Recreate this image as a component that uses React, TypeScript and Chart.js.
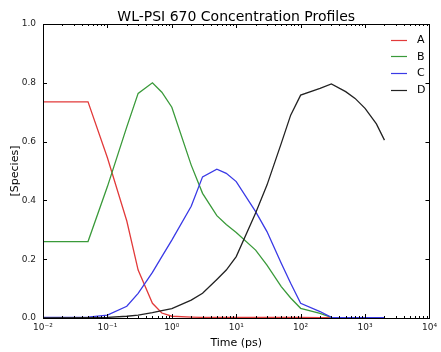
import React, { useEffect, useRef } from "react";
import { Chart, registerables } from "chart.js";

Chart.register(...registerables);

const times = [0.01, 0.05, 0.1, 0.2, 0.3, 0.5, 0.7, 1, 2, 3, 5, 7, 10, 20, 30, 50, 70, 100, 200, 300, 500, 700, 1000, 1500, 2000];
const seriesA = [0.735, 0.735, 0.545, 0.33, 0.163, 0.05, 0.017, 0.006, 0.003, 0.002, 0.002, 0.002, 0.002, 0.002, 0.002, 0.002, 0.002, 0.002, 0.001, 0.001, 0.0, 0.0, 0.0, 0.0, 0.0];
const seriesB = [0.26, 0.26, 0.447, 0.65, 0.764, 0.8, 0.768, 0.717, 0.52, 0.424, 0.348, 0.318, 0.291, 0.231, 0.18, 0.107, 0.068, 0.033, 0.016, 0.002, 0.001, 0, 0, 0, 0];
const seriesC = [0.002, 0.003, 0.01, 0.04, 0.084, 0.155, 0.209, 0.265, 0.38, 0.48, 0.506, 0.492, 0.464, 0.362, 0.294, 0.186, 0.118, 0.05, 0.022, 0.002, 0.001, 0.001, 0.001, 0.001, 0.001];
const seriesD = [0, 0.001, 0.002, 0.006, 0.01, 0.018, 0.025, 0.032, 0.061, 0.084, 0.131, 0.163, 0.209, 0.357, 0.452, 0.594, 0.69, 0.758, 0.781, 0.796, 0.77, 0.747, 0.713, 0.66, 0.605];
const seriesNames = ["A", "B", "C", "D"];
const seriesColors = ["#e23a3a", "#3a9a3a", "#3a3ae6", "#222222"];
const xTickLabels: Record<string, string> = {
  "-2": "10\u207B\u00B2",
  "-1": "10\u207B\u00B9",
  "0": "10\u2070",
  "1": "10\u00B9",
  "2": "10\u00B2",
  "3": "10\u00B3",
  "4": "10\u2074",
};
const yTicks = [0, 0.2, 0.4, 0.6, 0.8, 1.0];
const titleText = "WL-PSI 670 Concentration Profiles";
const xTitle = "Time (ps)";
const yTitle = "[Species]";

const FONT = "'DejaVu Sans', sans-serif";

function isMajor(v: number) {
  const l = Math.log10(v);
  return Math.abs(l - Math.round(l)) < 1e-9;
}

const decorPlugin = {
  id: "decor",
  afterDraw(chart: any) {
    const ctx = chart.ctx;
    const { left, right, top, bottom } = chart.chartArea;
    const xs = chart.scales.x;
    const ys = chart.scales.y;
    ctx.save();
    ctx.strokeStyle = "#000";
    ctx.lineWidth = 1;
    ctx.strokeRect(Math.round(left) + 0.5, Math.round(top) + 0.5, Math.round(right - left), Math.round(bottom - top));
    ctx.beginPath();
    for (const t of xs.ticks) {
      const v = t.value;
      const px = Math.round(xs.getPixelForValue(v)) + 0.5;
      const len = isMajor(v) ? 4 : 2;
      ctx.moveTo(px, bottom);
      ctx.lineTo(px, bottom - len);
      ctx.moveTo(px, top);
      ctx.lineTo(px, top + len);
    }
    for (const v of yTicks) {
      const py = Math.round(ys.getPixelForValue(v)) + 0.5;
      ctx.moveTo(left, py);
      ctx.lineTo(left + 4, py);
      ctx.moveTo(right, py);
      ctx.lineTo(right - 4, py);
    }
    ctx.stroke();

    ctx.fillStyle = "#000";
    ctx.font = `14px ${FONT}`;
    ctx.textAlign = "center";
    ctx.textBaseline = "alphabetic";
    ctx.fillText(titleText, (left + right) / 2, 21);
    ctx.font = `11px ${FONT}`;
    ctx.fillText(xTitle, (left + right) / 2, 346);
    ctx.save();
    ctx.translate(15, (top + bottom) / 2);
    ctx.rotate(-Math.PI / 2);
    ctx.textBaseline = "middle";
    ctx.fillText(yTitle, 0, 0);
    ctx.restore();

    ctx.font = `11px ${FONT}`;
    ctx.textAlign = "left";
    ctx.textBaseline = "middle";
    chart.data.datasets.forEach((ds: any, i: number) => {
      const y = 39.5 + i * 16.7;
      ctx.strokeStyle = ds.borderColor;
      ctx.lineWidth = 1.2;
      ctx.beginPath();
      ctx.moveTo(391, Math.round(y) + 0.5);
      ctx.lineTo(407, Math.round(y) + 0.5);
      ctx.stroke();
      ctx.fillStyle = "#000";
      ctx.fillText(ds.label, 417, y + 0.5);
    });
    ctx.restore();
  },
};

export default function App() {
  const ref = useRef<HTMLCanvasElement | null>(null);
  useEffect(() => {
    document.body.style.margin = "0";
    const allSeries = [seriesA, seriesB, seriesC, seriesD];
    const chart = new Chart(ref.current as HTMLCanvasElement, {
      type: "line",
      data: {
        datasets: allSeries.map((s, i) => ({
          label: seriesNames[i],
          data: times.map((t, j) => ({ x: t, y: s[j] })),
          borderColor: seriesColors[i],
          backgroundColor: seriesColors[i],
          borderWidth: 1.3,
          pointRadius: 0,
          tension: 0,
          fill: false,
          order: 3 - i,
        })),
      },
      options: {
        animation: false,
        responsive: false,
        maintainAspectRatio: false,
        devicePixelRatio: 1,
        layout: { padding: { top: 24, right: 7, left: 0, bottom: 0 } },
        plugins: {
          legend: { display: false },
          title: { display: false },
          tooltip: { enabled: false },
        },
        scales: {
          x: {
            type: "logarithmic",
            min: 0.01,
            max: 10000,
            grid: { display: false, drawTicks: false },
            border: { display: false },
            afterBuildTicks: (scale: any) => {
              const ticks: any[] = [];
              for (let e = -2; e <= 3; e++) {
                for (let m = 1; m <= 9; m++) {
                  ticks.push({ value: m * Math.pow(10, e) });
                }
              }
              ticks.push({ value: 10000 });
              scale.ticks = ticks;
            },
            afterFit: (scale: any) => {
              scale.height = 34;
            },
            ticks: {
              autoSkip: false,
              maxRotation: 0,
              padding: 4,
              color: "#222",
              font: { family: FONT, size: 9 },
              callback: (v: any) => {
                const n = Number(v);
                if (!isMajor(n)) return "";
                return xTickLabels[String(Math.round(Math.log10(n)))] || "";
              },
            },
          },
          y: {
            type: "linear",
            min: 0,
            max: 1,
            grid: { display: false, drawTicks: false },
            border: { display: false },
            afterBuildTicks: (scale: any) => {
              scale.ticks = yTicks.map((v) => ({ value: v }));
            },
            afterFit: (scale: any) => {
              scale.width = 43;
            },
            ticks: {
              padding: 7,
              color: "#222",
              font: { family: FONT, size: 9 },
              callback: (v: any) => Number(v).toFixed(1),
            },
          },
        },
      },
      plugins: [decorPlugin],
    });
    return () => chart.destroy();
  }, []);
  return (
    <div style={{ position: "fixed", left: 0, top: 0, width: 441, height: 352, background: "#fff" }}>
      <canvas ref={ref} width={441} height={352} style={{ width: 441, height: 352 }} />
    </div>
  );
}
